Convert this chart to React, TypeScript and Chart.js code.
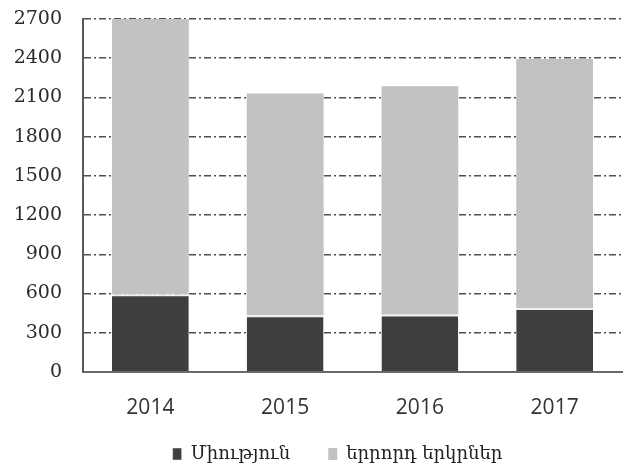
import React, { useEffect, useRef } from "react";
import { Chart, registerables } from "chart.js";

Chart.register(...registerables);

const categories = ["2014", "2015", "2016", "2017"];
const seriesNames = ["Միություն", "երրորդ երկրներ"];
const unionValues = [595, 435, 440, 490];
const thirdCountryValues = [2105, 1695, 1745, 1905];
const yTicks = [0, 300, 600, 900, 1200, 1500, 1800, 2100, 2400, 2700];

const layoutTweak = {
  id: "layoutTweak",
  afterLayout(chart: any) {
    const lg = chart.legend;
    if (lg) lg.left = lg.left + 53;
    const xs = chart.scales.x;
    if (xs) xs.bottom = chart.height;
  },
};

export default function App() {
  const ref = useRef<HTMLCanvasElement | null>(null);
  useEffect(() => {
    if (!ref.current) return;
    const chart = new Chart(ref.current, {
      type: "bar",
      data: {
        labels: categories,
        datasets: [
          {
            label: seriesNames[0],
            data: unionValues,
            backgroundColor: "#3f3f3f",
            borderColor: "#efefef",
            borderWidth: { top: 2, left: 0, right: 0, bottom: 0 },
            borderSkipped: "start",
            barPercentage: 0.57,
            categoryPercentage: 1,
          },
          {
            label: seriesNames[1],
            data: thirdCountryValues,
            backgroundColor: "#c2c2c2",
            borderWidth: 0,
            barPercentage: 0.57,
            categoryPercentage: 1,
          },
        ],
      },
      plugins: [layoutTweak],
      options: {
        responsive: false,
        animation: false,
        layout: { padding: { left: 0, right: 8, top: 19, bottom: 0 } },
        plugins: {
          tooltip: { enabled: false },
          legend: {
            position: "bottom",
            labels: {
              boxWidth: 9,
              boxHeight: 12,
              padding: 38,
              color: "#222",
              font: { family: "'DejaVu Serif', serif", size: 18 },
            },
          },
        },
        scales: {
          x: {
            stacked: true,
            grid: { display: false, drawTicks: false },
            border: { display: true, color: "#6a6a6a", width: 2 },
            ticks: {
              padding: 23,
              color: "#333",
              font: { family: "'Open Sans', sans-serif", size: 21 },
            },
            afterFit: (s: any) => {
              s.height = 35;
            },
          },
          y: {
            stacked: true,
            min: 0,
            max: 2700,
            afterBuildTicks: (s: any) => {
              s.ticks = yTicks.map((v) => ({ value: v }));
            },
            grid: { color: "#505050", lineWidth: 1.6, drawTicks: false },
            border: { display: true, color: "#5a5a5a", width: 2, dash: [7, 3, 2, 3] },
            ticks: {
              padding: 21,
              color: "#2a2a2a",
              font: { family: "'DejaVu Serif', serif", size: 19 },
              callback: (v: any) => String(v),
            },
            afterFit: (s: any) => {
              s.width = 83;
              s.paddingTop = 0;
              s.paddingBottom = 0;
            },
          },
        },
      },
    });
    return () => chart.destroy();
  }, []);
  return (
    <canvas
      ref={ref}
      width={630}
      height={473}
      style={{ position: "absolute", left: 0, top: 0, display: "block" }}
    />
  );
}
